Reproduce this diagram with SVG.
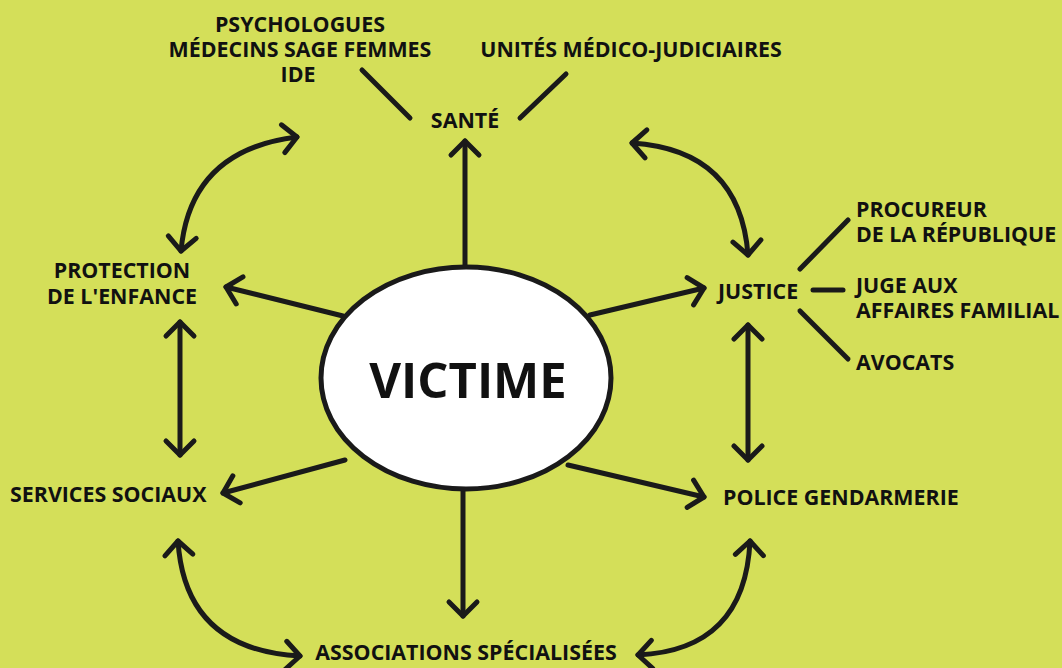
<svg xmlns="http://www.w3.org/2000/svg" width="1062" height="668" viewBox="0 0 1062 668">
<style>
.c{fill:none;stroke:#1a1a1a;stroke-width:5;stroke-linecap:round;stroke-linejoin:round}
.t{font-family:"Open Sans","Liberation Sans",sans-serif;font-weight:700;font-size:21.4px;fill:#111}
.m{text-anchor:middle}
</style>
<defs>
<marker id="ah" viewBox="-20 -20 40 40" markerWidth="40" markerHeight="40" refX="0" refY="0" markerUnits="userSpaceOnUse" orient="auto-start-reverse" overflow="visible">
<path d="M -14 -14 L 0 0 L -14 14" fill="none" stroke="#1a1a1a" stroke-width="5" stroke-linecap="round" stroke-linejoin="round"/>
</marker>
</defs>
<rect width="1062" height="668" fill="#d4df59"/>
<g id="connectors">
<path class="c" d="M 465 267 L 465 141" marker-end="url(#ah)"/>
<path class="c" d="M 463 490 L 463 616" marker-end="url(#ah)"/>
<path class="c" d="M 343 316 L 226 287" marker-end="url(#ah)"/>
<path class="c" d="M 590 315 L 704 288" marker-end="url(#ah)"/>
<path class="c" d="M 345 460 L 223 493" marker-end="url(#ah)"/>
<path class="c" d="M 568 465 L 704 497" marker-end="url(#ah)"/>
<path class="c" d="M 297 137 Q 190 150 181 251" marker-start="url(#ah)" marker-end="url(#ah)"/>
<path class="c" d="M 632 143 Q 740 150 748 255" marker-start="url(#ah)" marker-end="url(#ah)"/>
<path class="c" d="M 178 541 Q 185 650 300 656" marker-start="url(#ah)" marker-end="url(#ah)"/>
<path class="c" d="M 638 655 Q 745 650 750 541" marker-start="url(#ah)" marker-end="url(#ah)"/>
<path class="c" d="M 180 322 L 180 455" marker-start="url(#ah)" marker-end="url(#ah)"/>
<path class="c" d="M 748 325 L 748 460" marker-start="url(#ah)" marker-end="url(#ah)"/>
<path class="c" d="M 362 70 L 410 118"/>
<path class="c" d="M 520 118 L 566 74"/>
<path class="c" d="M 800 269 L 848 220"/>
<path class="c" d="M 813 290 L 843 290"/>
<path class="c" d="M 800 311 L 848 359"/>
</g>
<g id="victime">
<ellipse cx="466" cy="378" rx="145" ry="111" fill="#fff" stroke="#1a1a1a" stroke-width="5"/>
<text class="t m" x="468" y="398" style="font-size:49px">VICTIME</text>
</g>
<g id="sante"><text class="t m" x="465" y="128">SANTÉ</text></g>
<g id="psychologues">
<text class="t m" x="300" y="32">PSYCHOLOGUES</text>
<text class="t m" x="300" y="57">MÉDECINS SAGE FEMMES</text>
<text class="t m" x="298" y="82">IDE</text>
</g>
<g id="umj"><text class="t m" x="631" y="57">UNITÉS MÉDICO-JUDICIAIRES</text></g>
<g id="protection">
<text class="t m" x="122" y="278">PROTECTION</text>
<text class="t m" x="122" y="304">DE L'ENFANCE</text>
</g>
<g id="justice"><text class="t" x="718" y="299">JUSTICE</text></g>
<g id="procureur">
<text class="t" x="856" y="217">PROCUREUR</text>
<text class="t" x="856" y="242">DE LA RÉPUBLIQUE</text>
</g>
<g id="jaf">
<text class="t" x="856" y="293">JUGE AUX</text>
<text class="t" x="856" y="318">AFFAIRES FAMILIAL</text>
</g>
<g id="avocats"><text class="t" x="856" y="370">AVOCATS</text></g>
<g id="services"><text class="t" x="10" y="502">SERVICES SOCIAUX</text></g>
<g id="police"><text class="t" x="723" y="505">POLICE GENDARMERIE</text></g>
<g id="associations"><text class="t m" x="466" y="660">ASSOCIATIONS SPÉCIALISÉES</text></g>
</svg>
